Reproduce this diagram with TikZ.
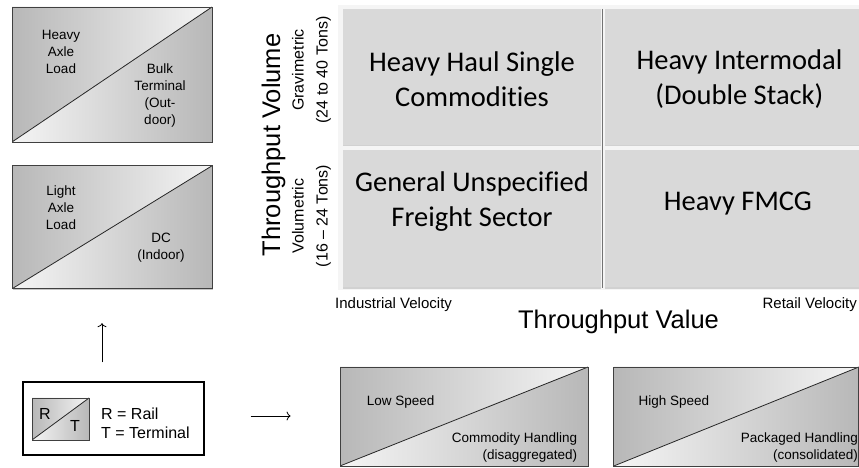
\documentclass[tikz,border=0pt]{standalone}
\usepackage{fontspec}
\setmainfont{Liberation Sans}
\newfontfamily\cellfont[Ligatures=NoCommon]{Carlito}
\usepackage{tikz}
\usetikzlibrary{positioning, shadows, arrows.meta}

\begin{document}
\begin{tikzpicture}[x=1pt, y=1pt, >={To[length=4pt,width=9pt]},
  splitbox/.style={draw=black!75, line width=0.8pt, inner sep=0pt, fill=white,
    path picture={
      \shade[left color=black!28, right color=black!4] (path picture bounding box.south west) -- (path picture bounding box.north west) -- (path picture bounding box.north east) -- cycle;
      \shade[left color=black!4, right color=black!28] (path picture bounding box.south west) -- (path picture bounding box.south east) -- (path picture bounding box.north east) -- cycle;
      \draw[black!85, line width=0.8pt] (path picture bounding box.south west) -- (path picture bounding box.north east);}},
  boxshadow/.style={drop shadow={shadow xshift=1.2pt, shadow yshift=-1.5pt, opacity=0.45}},
  cell/.style={fill=black!15, minimum width=258pt, minimum height=136pt, inner sep=0pt,
    drop shadow={shadow xshift=0pt, shadow yshift=-1.2pt, opacity=0.3}},
  boxtext/.style={align=center, inner sep=0pt, font=\fontsize{13.5}{17}\selectfont},
  celltext/.style={align=center, inner sep=0pt, font=\cellfont\fontsize{28.5}{35}\selectfont},
  axistext/.style={inner sep=0pt, font=\fontsize{25.5}{30}\selectfont},
  sidetext/.style={rotate=90, align=center, inner sep=0pt, font=\fontsize{16}{24}\selectfont},
  velotext/.style={inner sep=0pt, font=\fontsize{15}{18}\selectfont},
  legtext/.style={inner sep=0pt, font=\fontsize{16}{19}\selectfont}]
\useasboundingbox (0,0) rectangle (859,468);

\node[splitbox, boxshadow, minimum width=200pt, minimum height=135pt] (heavy) at (112,393.5) {};
\node[splitbox, boxshadow, minimum width=200pt, minimum height=123pt, below=23pt of heavy] (light) {};
\node[boxtext] (heavyload) at ([shift={(-51pt,22.5pt)}]heavy.center) {Heavy\\Axle\\Load};
\node[boxtext] (bulk) at ([shift={(48pt,-21.5pt)}]heavy.center) {Bulk\\Terminal\\(Out-\\door)};
\node[boxtext] (lightload) at ([shift={(-51pt,19.5pt)}]light.center) {Light\\Axle\\Load};
\node[boxtext] (dc) at ([shift={(49pt,-20.5pt)}]light.center) {DC\\(Indoor)};

\node[draw, line width=1.3pt, minimum width=181pt, minimum height=73pt] (legend) at (113.5,49.5) {};
\node[splitbox, boxshadow, minimum width=57pt, minimum height=42pt] (rt) at (60.5,49) {};
\node[legtext] (rlet) at (45,54) {R};
\node[legtext] (tlet) at (75,42) {T};
\node[legtext, align=left, anchor=west] (legkey) at (101,44.5) {R = Rail\\T = Terminal};

\fill[black!4] (338,463) rectangle (863,178);
\node[cell] (tl) at (472,391) {};
\node[cell, right=4pt of tl] (tr) {};
\node[cell, minimum height=137pt, below=5pt of tl] (bl) {};
\node[cell, minimum height=137pt, right=4pt of bl] (br) {};
\draw[black!55, line width=1.2pt] ([xshift=1.2pt]tl.north east) -- ([xshift=1.2pt]bl.south east);
\node[celltext] (haul) at ([yshift=-2.5pt]tl.center) {Heavy Haul Single\\Commodities};
\node[celltext] (intermodal) at ([shift={(5pt,-2.5pt)}]tr.center) {Heavy Intermodal\\(Double Stack)};
\node[celltext] (general) at ([yshift=17pt]bl.center) {General Unspecified\\Freight Sector};
\node[celltext] (fmcg) at ([shift={(3.5pt,15.5pt)}]br.center) {Heavy FMCG};

\node[axistext, rotate=90, anchor=base] (volume) at (280,323) {Throughput Volume};
\node[sidetext] (grav) at (311.5,398) {Gravimetric\\(24 to 40 Tons)};
\node[sidetext] (vol) at (311.5,252) {Volumetric\\(16 -- 24 Tons)};
\node[velotext, anchor=west] (industrial) at (335,163) {Industrial Velocity};
\node[velotext, anchor=east] (retail) at (857,163) {Retail Velocity};
\node[axistext] (value) at (618.5,146) {Throughput Value};

\node[splitbox, boxshadow, minimum width=248pt, minimum height=99pt] (low) at (464,51.5) {};
\node[splitbox, boxshadow, minimum width=245pt, minimum height=99pt, right=25pt of low] (high) {};
\node[boxtext, anchor=west] (lowspeed) at ([shift={(27pt,14.5pt)}]low.west) {Low Speed};
\node[boxtext, align=right, anchor=east] (commodity) at ([shift={(-11pt,-31pt)}]low.east) {Commodity Handling\\(disaggregated)};
\node[boxtext, anchor=west] (highspeed) at ([shift={(25pt,14.5pt)}]high.west) {High Speed};
\node[boxtext, align=right, anchor=east] (packaged) at ([shift={(-1pt,-31pt)}]high.east) {Packaged Handling\\(consolidated)};

\draw[->, line width=0.8pt, shorten <=19pt, shorten >=34pt] ([xshift=-11.5pt]legend.north) -- ([xshift=-10pt]light.south);
\draw[->, line width=0.8pt, shorten <=46pt, shorten >=49pt] ([yshift=2.5pt]legend.east) -- ([yshift=0.5pt]low.west);
\end{tikzpicture}
\end{document}
